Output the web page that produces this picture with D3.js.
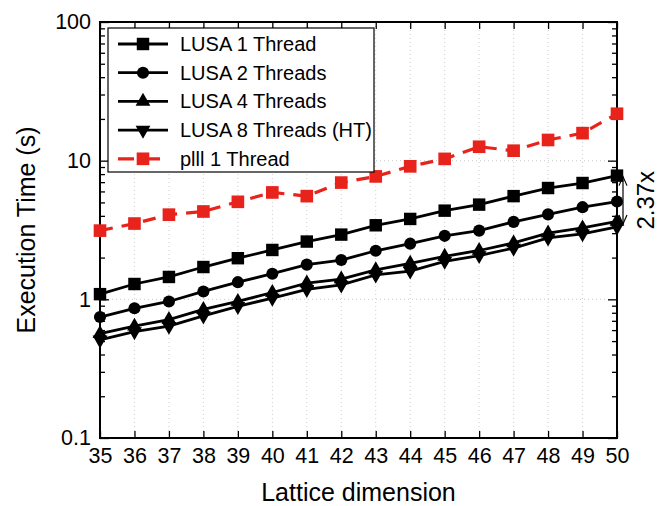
<!DOCTYPE html>
<html>
<head>
<meta charset="utf-8">
<script src="https://cdn.jsdelivr.net/npm/d3@7"></script>
<style>
  html, body { margin: 0; padding: 0; background: #fff; }
  svg { display: block; font-family: "Liberation Sans", Arial, Helvetica, sans-serif; }
</style>
</head>
<body>
<svg id="chart" width="659" height="506"></svg>
<script>
// ---- data ----
const dims = [35,36,37,38,39,40,41,42,43,44,45,46,47,48,49,50];
const lusa1 = [1.09,1.29,1.45,1.71,1.98,2.27,2.61,2.93,3.42,3.80,4.36,4.82,5.55,6.35,6.90,7.80];
const lusa2 = [0.745,0.862,0.965,1.14,1.33,1.53,1.78,1.92,2.24,2.52,2.87,3.13,3.62,4.10,4.62,5.07];
const lusa4 = [0.565,0.640,0.715,0.845,0.965,1.12,1.31,1.40,1.63,1.82,2.04,2.25,2.55,3.00,3.27,3.65];
const lusa8 = [0.510,0.585,0.640,0.760,0.890,1.02,1.18,1.27,1.50,1.60,1.88,2.07,2.34,2.77,2.97,3.33];
const plll1 = [3.13,3.52,4.08,4.30,5.05,5.90,5.55,6.95,7.70,9.10,10.3,12.6,11.8,14.1,15.8,21.8];
const seriesNames = ["LUSA 1 Thread","LUSA 2 Threads","LUSA 4 Threads","LUSA 8 Threads (HT)","plll 1 Thread"];
const yTickValues = [0.1, 1, 10, 100];
const yTickLabels = ["0.1", "1", "10", "100"];
const speedupLabel = "2.37x";
const xTitle = "Lattice dimension";
const yTitle = "Execution Time (s)";

// ---- layout ----
const svg = d3.select("#chart");
const L = 100, R = 617, T = 22, B = 438;
const x = d3.scaleLinear().domain([35, 50]).range([L, R]);
const y = d3.scaleLog().domain([0.1, 100]).range([B, T]);
const red = "#e8231c";

const series = [
  {name: seriesNames[0], vals: lusa1, sym: d3.symbolSquare, size: 155, color: "#000", dash: null, rot: 0},
  {name: seriesNames[1], vals: lusa2, sym: d3.symbolCircle, size: 115, color: "#000", dash: null, rot: 0},
  {name: seriesNames[2], vals: lusa4, sym: d3.symbolTriangle, size: 95, color: "#000", dash: null, rot: 0},
  {name: seriesNames[3], vals: lusa8, sym: d3.symbolTriangle, size: 95, color: "#000", dash: null, rot: 180},
  {name: seriesNames[4], vals: plll1, sym: d3.symbolSquare, size: 160, color: red, dash: "13,9", rot: 0}
];

// grid
const grid = svg.append("g");
dims.slice(1, -1).forEach(d => {
  grid.append("line").attr("x1", x(d)).attr("x2", x(d)).attr("y1", T).attr("y2", B)
    .attr("stroke", "#cccccc").attr("stroke-width", 1).attr("stroke-dasharray", "1,3");
});
[1, 10].forEach(v => {
  grid.append("line").attr("x1", L).attr("x2", R).attr("y1", y(v)).attr("y2", y(v))
    .attr("stroke", "#cccccc").attr("stroke-width", 1).attr("stroke-dasharray", "1,3");
});

// axes via d3 axis generators (ticks inward)
const minorVals = [];
[0.1, 1, 10].forEach(dec => { for (let k = 2; k <= 9; k++) minorVals.push(dec * k); });

const leftMajor = d3.axisLeft(y).tickValues(yTickValues).tickSize(-9).tickFormat((d, i) => yTickLabels[i]).tickPadding(9);
const leftMinor = d3.axisLeft(y).tickValues(minorVals).tickSize(-5).tickFormat("");
const rightMajor = d3.axisRight(y).tickValues(yTickValues).tickSize(-9).tickFormat("");
const rightMinor = d3.axisRight(y).tickValues(minorVals).tickSize(-5).tickFormat("");
const bottomAx = d3.axisBottom(x).tickValues(dims).tickSize(-7).tickFormat(d3.format("d")).tickPadding(10);
const topAx = d3.axisTop(x).tickValues(dims).tickSize(-7).tickFormat("");

function styleAxis(g) {
  g.select(".domain").remove();
  g.selectAll(".tick line").attr("stroke", "#000").attr("stroke-width", 1.3);
  g.selectAll("text").attr("fill", "#000").style("font-size", "21.5px")
    .style("font-family", '"Liberation Sans", Arial, sans-serif');
}
svg.append("g").attr("transform", `translate(${L},0)`).call(leftMajor).call(styleAxis);
svg.append("g").attr("transform", `translate(${L},0)`).call(leftMinor).call(styleAxis);
svg.append("g").attr("transform", `translate(${R},0)`).call(rightMajor).call(styleAxis);
svg.append("g").attr("transform", `translate(${R},0)`).call(rightMinor).call(styleAxis);
svg.append("g").attr("transform", `translate(0,${B})`).call(bottomAx).call(styleAxis)
  .selectAll("text").attr("dy", "0.71em");
svg.append("g").attr("transform", `translate(0,${T})`).call(topAx).call(styleAxis);

// frame
svg.append("rect").attr("x", L).attr("y", T).attr("width", R - L).attr("height", B - T)
  .attr("fill", "none").attr("stroke", "#000").attr("stroke-width", 2);

// lines and markers
const lineGen = d3.line().x((d, i) => x(dims[i])).y(d => y(d));
series.forEach(s => {
  svg.append("path").datum(s.vals).attr("d", lineGen)
    .attr("fill", "none").attr("stroke", s.color).attr("stroke-width", s.dash ? 3.2 : 2.8)
    .attr("stroke-dasharray", s.dash);
});
series.forEach(s => {
  const symPath = d3.symbol().type(s.sym).size(s.size)();
  svg.append("g").selectAll("path").data(s.vals).join("path")
    .attr("d", symPath)
    .attr("transform", (d, i) => `translate(${x(dims[i])},${y(d)}) rotate(${s.rot})`)
    .attr("fill", s.color);
});

// legend
const lg = svg.append("g");
lg.append("rect").attr("x", 108).attr("y", 28).attr("width", 266).attr("height", 144)
  .attr("fill", "#fff").attr("stroke", "#000").attr("stroke-width", 1.2);
series.forEach((s, i) => {
  const cy = 44 + i * 28.7;
  lg.append("line").attr("x1", 118).attr("x2", 168).attr("y1", cy).attr("y2", cy)
    .attr("stroke", s.color).attr("stroke-width", s.dash ? 3.2 : 2.8)
    .attr("stroke-dasharray", s.dash ? "16,10" : null);
  lg.append("path").attr("d", d3.symbol().type(s.sym).size(s.size)())
    .attr("transform", `translate(143,${cy}) rotate(${s.rot})`).attr("fill", s.color);
  lg.append("text").attr("x", 180).attr("y", cy).attr("dy", "0.35em")
    .style("font-size", "20px").attr("fill", "#000").text(s.name);
});

// speedup arrow
const ax = 623;
const y1 = y(lusa1[lusa1.length - 1]) + 1, y2 = y(lusa8[lusa8.length - 1]) - 3;
const arr = svg.append("g").attr("stroke", "#000").attr("stroke-width", 1.2).attr("fill", "none");
arr.append("line").attr("x1", ax).attr("x2", ax).attr("y1", y1).attr("y2", y2);
arr.append("path").attr("d", `M${ax-4},${y1+9}L${ax},${y1}L${ax+4},${y1+9}`);
arr.append("path").attr("d", `M${ax-4},${y2-9}L${ax},${y2}L${ax+4},${y2-9}`);
svg.append("text").attr("transform", `translate(646,${(y1 + y2) / 2}) rotate(-90)`)
  .attr("text-anchor", "middle").attr("dy", "0.35em").style("font-size", "24px").text(speedupLabel);

// axis titles
svg.append("text").attr("x", (L + R) / 2).attr("y", 501).attr("text-anchor", "middle")
  .style("font-size", "25px").text(xTitle);
svg.append("text").attr("transform", `translate(35,230) rotate(-90)`).attr("text-anchor", "middle")
  .style("font-size", "25px").text(yTitle);
</script>
</body>
</html>
